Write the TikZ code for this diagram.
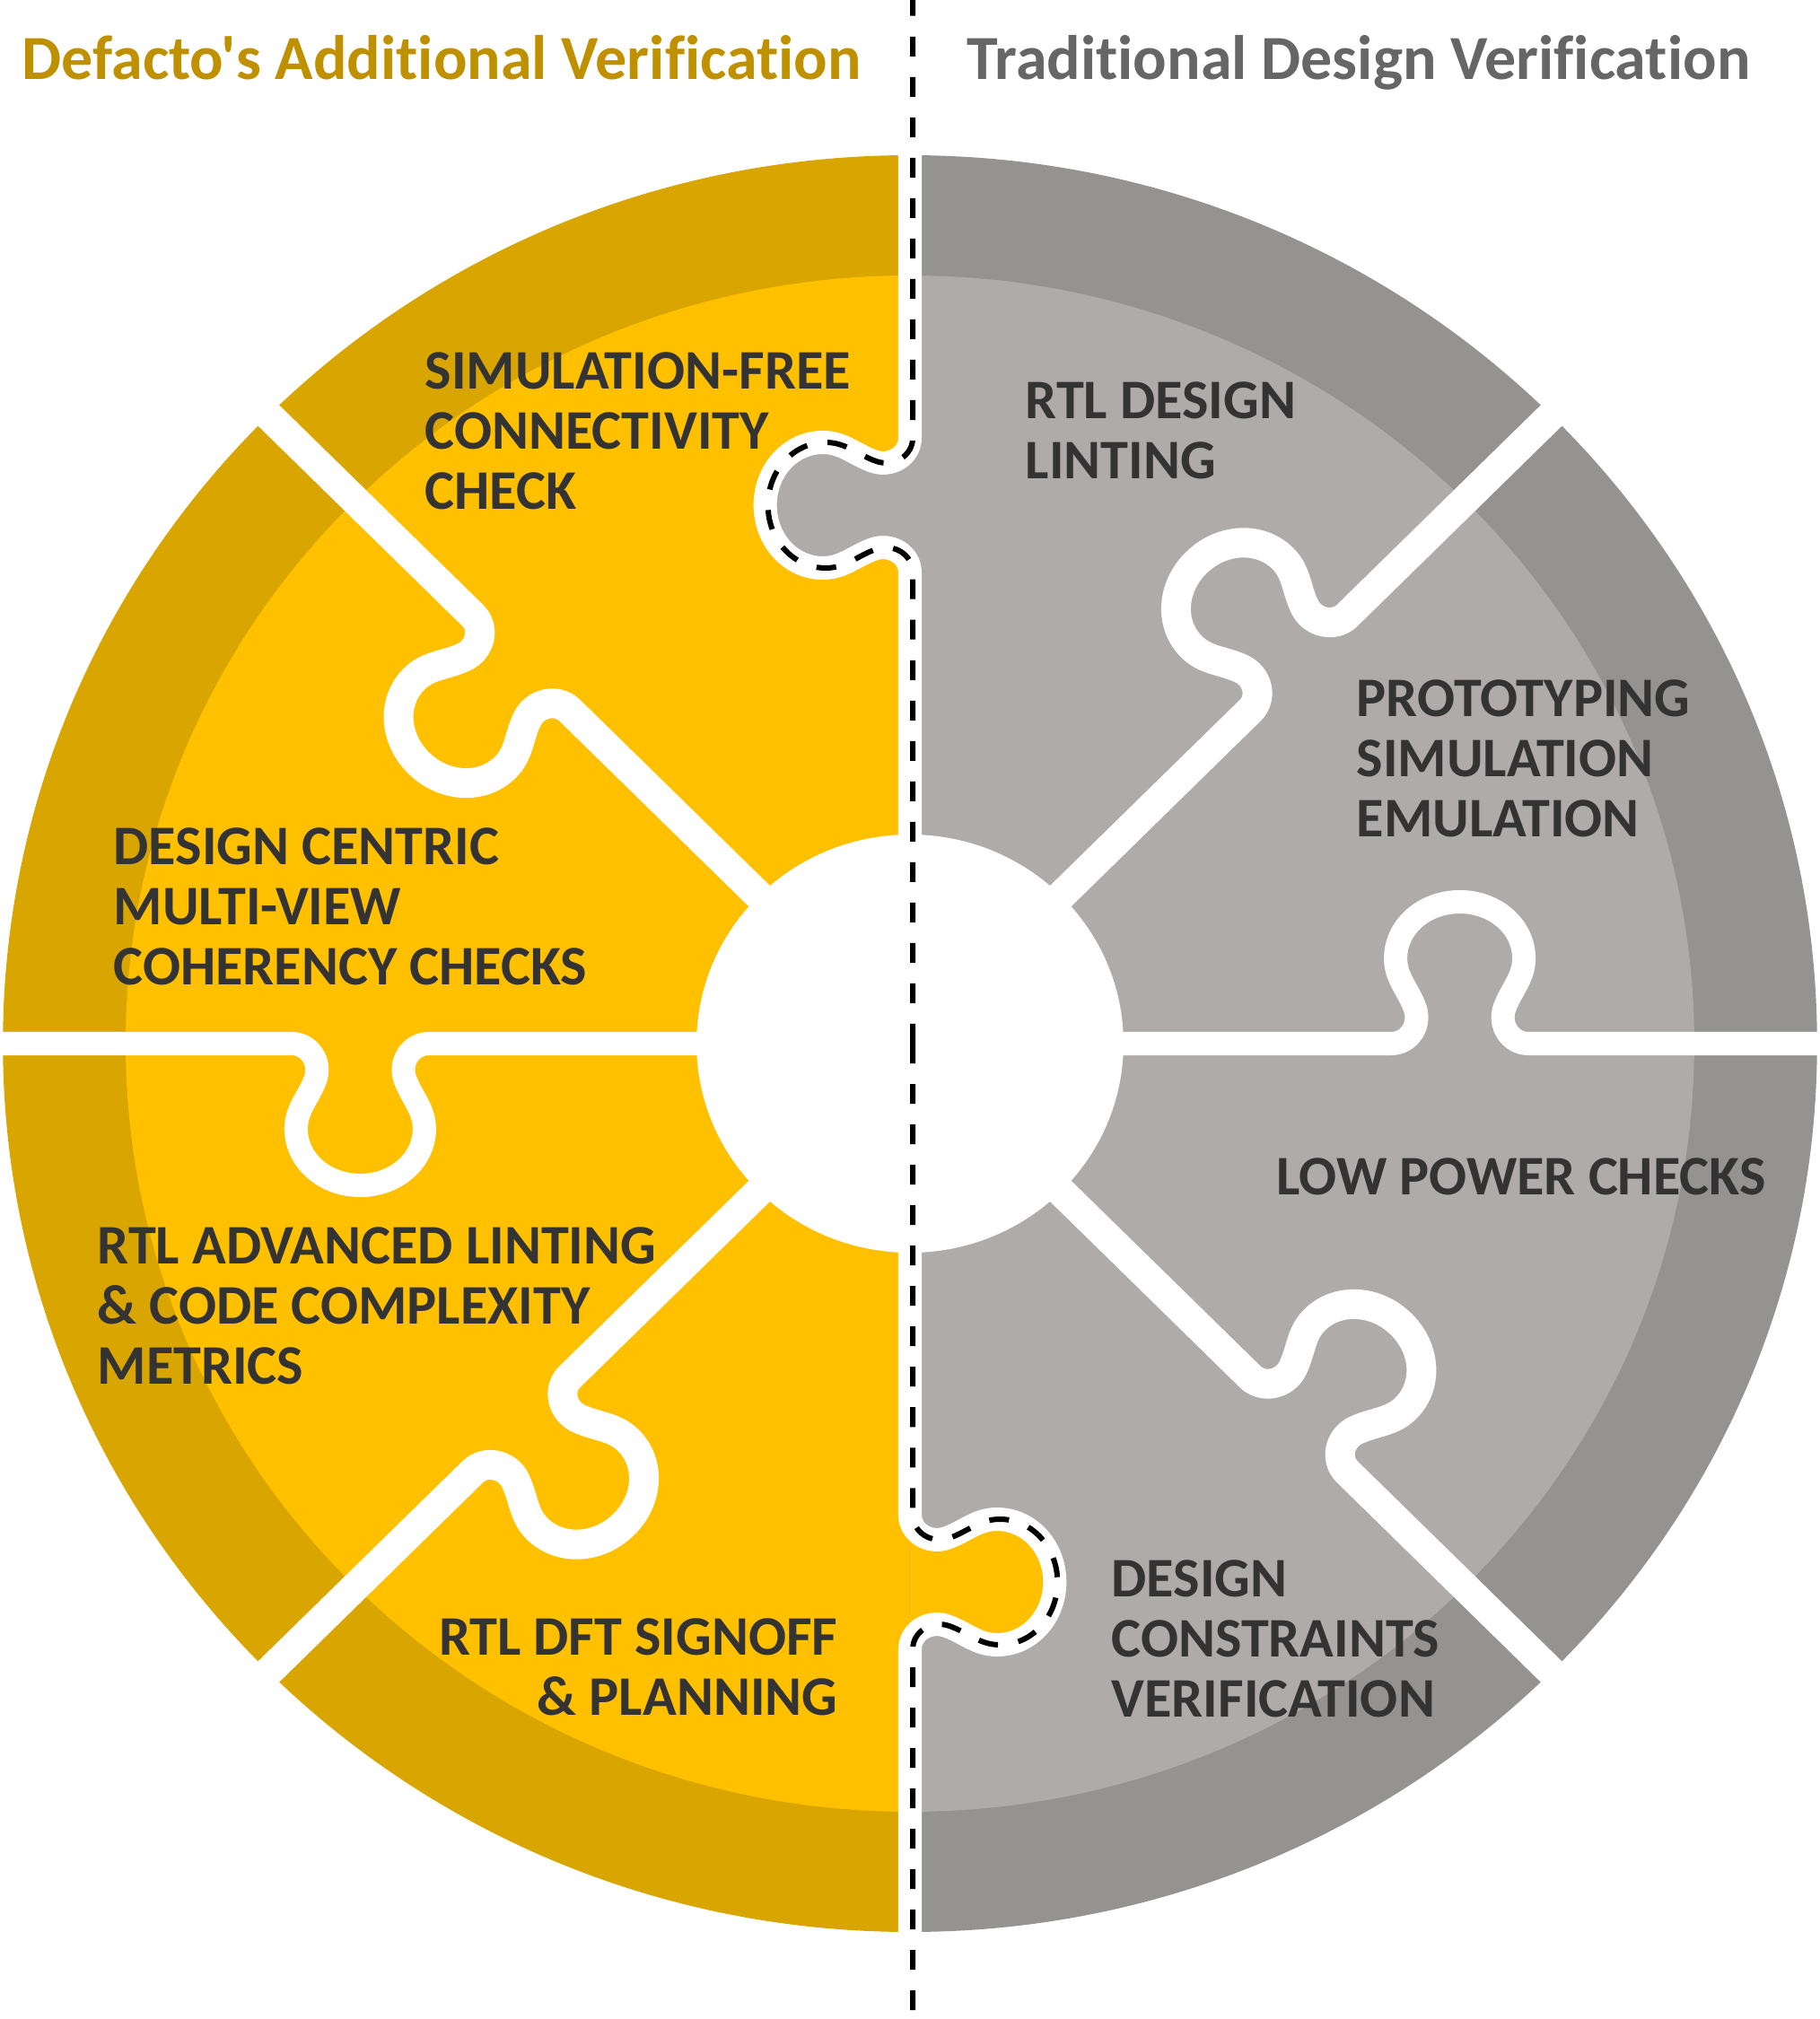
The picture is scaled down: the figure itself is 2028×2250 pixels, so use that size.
\documentclass[tikz,border=0pt]{standalone}
\usepackage{fontspec}
\newfontfamily\labelfont{Carlito}[Ligatures=NoCommon]
\usepackage{tikz}
\usetikzlibrary{calc}

\definecolor{goldlight}{HTML}{FFC000}
\definecolor{golddark}{HTML}{D9A500}
\definecolor{greylight}{HTML}{AEABAA}
\definecolor{greydark}{HTML}{949391}
\definecolor{goldtitle}{HTML}{BF9000}
\definecolor{greytitle}{HTML}{666666}
\definecolor{labeltext}{HTML}{333333}

% one puzzle knob on a gap, the gap runs along x, the knob bulges to +y
\newcommand{\knob}{(525,0) .. controls (545,0) and (558,21) .. (551,40)
	.. controls (543.5,60.7) and (530,73) .. (530,95)
	.. controls (530,130) and (561,158) .. (600,158)
	.. controls (639,158) and (670,130) .. (670,95)
	.. controls (670,73) and (656.5,60.7) .. (649,40)
	.. controls (642,21) and (655,0) .. (675,0)}

\begin{document}
\begin{tikzpicture} [x=0.01cm, y=0.01cm,
	gapline/.style={draw=white, line width=0.26cm},
	diagline/.style={draw=white, line width=0.33cm},
	dashline/.style={draw=black, line width=0.06cm, dash pattern=on 0.22cm off 0.23cm},
	piece/.style={inner sep=0pt, anchor=north west, align=left, text=labeltext,
		font=\labelfont\fontsize{17.7}{19.1}\selectfont\bfseries},
	headline/.style={inner sep=0pt, anchor=base west,
		font=\labelfont\fontsize{19.9}{24}\selectfont\bfseries}]
	
	\useasboundingbox (-1014,-1087) rectangle (1014,1163);
	
	\begin{scope}[xscale=1.021]
		% left half
		\begin{scope}
			\clip (-1100,-1100) rectangle (0,1100);
			\fill[golddark] (0,0) circle (990);
			\fill[goldlight] (0,0) circle (856);
		\end{scope}
		% right half
		\begin{scope}
			\clip (0,-1100) rectangle (1100,1100);
			\fill[greydark] (0,0) circle (990);
			\fill[greylight] (0,0) circle (856);
		\end{scope}
		% tabs across the middle
		\fill[greylight, rotate=90] \knob -- cycle;
		\fill[goldlight, rotate=270] \knob -- cycle;
		
		% gaps between the pieces
		\foreach \a in {0,90,180,270}
			\draw[gapline, rotate=\a] (200,0) -- \knob -- (1030,0);
		\foreach \a in {45,135,225,315}
			\draw[diagline, rotate=\a] (200,0) -- \knob -- (1030,0);
		
		\fill[white] (0,0) circle (233);
		\draw[dashline, xshift=0.03cm, rotate=90] (0,0) -- \knob -- (1163,0);
		\draw[dashline, xshift=0.03cm, rotate=270] (0,0) -- \knob -- (1087,0);
	\end{scope}
	
	\node[headline, text=goldtitle] (lefttitle) at (-990,1074) {Defacto's Additional Verification};
	\node[headline, text=greytitle] (righttitle) at (63,1074) {Traditional Design Verification};
	
	\node[piece] (simfree) at (-541,771) {SIMULATION-FREE\\CONNECTIVITY\\CHECK};
	\node[piece] (rtllint) at (128,738) {RTL DESIGN\\LINTING};
	\node[piece] (proto) at (497,406) {PROTOTYPING\\SIMULATION\\EMULATION};
	\node[piece] (multiview) at (-888,241) {DESIGN CENTRIC\\MULTI-VIEW\\COHERENCY CHECKS};
	\node[piece] (lowpower) at (408,-127) {LOW POWER CHECKS};
	\node[piece] (advlint) at (-906,-204) {RTL ADVANCED LINTING\\\& CODE COMPLEXITY\\METRICS};
	\node[piece, anchor=north east, align=right] (dft) at (-80,-640) {RTL DFT SIGNOFF\\\& PLANNING};
	\node[piece] (constraints) at (224,-575) {DESIGN\\CONSTRAINTS\\VERIFICATION};
	
\end{tikzpicture}
\end{document}
